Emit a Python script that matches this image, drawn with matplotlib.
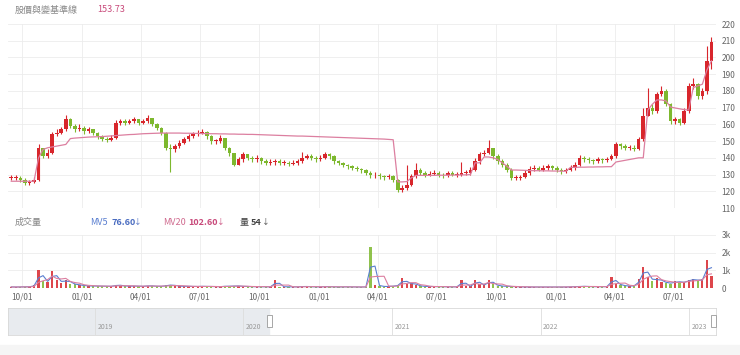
import matplotlib
matplotlib.use('Agg')
import matplotlib.pyplot as plt
import matplotlib.dates as mdates
from matplotlib.patches import Rectangle
import pandas as pd

plt.rcParams['font.family'] = ['Noto Sans CJK TC', 'DejaVu Sans']

# 週K資料 (從圖上估計)
start_date = '2020-09-14'
closes = [128, 128, 127, 125, 125.5, 127,
          146, 141, 143, 154, 155, 157, 163, 159, 157, 158,
          156, 157, 155, 153, 151, 150.5, 152, 161, 162, 161,
          162, 163, 161, 162, 164, 160, 158, 155, 146, 145,
          147, 149, 151, 153, 154, 155, 155.5, 153, 150, 150,
          152, 146, 143, 136, 139, 142, 140, 139, 140, 138,
          137, 137.5, 138, 137, 137, 136.5, 137, 138, 140, 141,
          140, 139, 140, 142, 141, 138, 137, 136, 135, 134,
          133.5, 132.5, 131, 129.5, 130, 129, 128.5, 129, 127, 120.5,
          122, 124, 129, 133, 131, 130, 130.5, 131, 130, 129.5,
          131, 130, 130, 131, 131, 133, 138, 142, 143, 146,
          141, 138, 136, 133, 128, 128, 128.5, 131, 133.5, 134,
          133, 134, 135, 134, 133, 132, 132.5, 134, 136, 140,
          139, 138.5, 138, 139, 138.5, 139, 141, 148, 147, 146,
          146, 145.5, 151, 165, 170, 168, 178, 180, 172, 162,
          163, 161, 168, 183, 184, 177, 180, 198, 209]
highs = [129.5, 129.5, 129, 128, 127, 128.5,
         148, 146, 145, 155.5, 157, 158.5, 165.5, 164, 160, 160,
         159, 158.5, 157.5, 155.5, 153.5, 152.5, 153.5, 162.5, 163.5, 163,
         163.5, 164.5, 163.5, 163.5, 165.5, 164, 161, 158.5, 155.5, 148,
         148.5, 150.5, 152.5, 154.5, 155.5, 156.5, 157, 156, 153.5, 151.5,
         153.5, 152, 146.5, 143, 140.5, 143.5, 142.5, 141, 141.5, 140.5,
         139, 139, 139.5, 139, 138.5, 138, 138.5, 139.5, 143.5, 142.5,
         142, 141, 141.5, 143.5, 143, 141.5, 138.5, 137.5, 136.5, 135.5,
         135, 134, 133.5, 132, 131.5, 131, 130, 130.5, 130, 127.5,
         123.5, 135.5, 130.5, 137, 134, 132, 132, 132.5, 132, 131,
         132, 132, 131.5, 137.5, 132.5, 134.5, 140, 143.5, 144.5, 150.5,
         146, 142, 139, 137, 134, 129.5, 130, 132.5, 135, 135.5,
         135, 135.5, 136.5, 136, 135, 134, 134, 135.5, 137.5, 141.5,
         141, 140.5, 139.5, 140.5, 140, 140.5, 142.5, 149.5, 149, 148,
         147.5, 147.5, 152.5, 170, 182, 172, 179.5, 183, 181, 173,
         164.5, 164, 169.5, 184.5, 188, 185, 182, 207, 212]
lows = [126.5, 126.5, 125.5, 124, 124, 125,
        126, 140, 140, 142, 153, 154, 156, 158, 155.5, 156,
        154.5, 155, 153.5, 151.5, 150, 149.5, 150, 151, 159.5, 159.5,
        160, 161, 159.5, 160, 161, 159, 156.5, 153.5, 144.5, 131.5,
        143.5, 146, 148, 150, 152, 153, 154, 151.5, 148.5, 148.5,
        149, 144.5, 141, 135, 135.5, 137.5, 138.5, 137.5, 137.5, 136.5,
        135.5, 135.5, 136, 135.5, 135.5, 135, 135.5, 136, 137, 139,
        138.5, 137.5, 138, 139, 139.5, 136.5, 135.5, 134.5, 133.5, 132.5,
        132, 131, 129.5, 128, 128, 127.5, 127, 127.5, 125.5, 119.5,
        119.5, 121, 123, 128, 129.5, 128.5, 129, 129.5, 128.5, 128,
        128.5, 129, 128.5, 129, 129.5, 130, 132, 136.5, 141, 142,
        139.5, 136.5, 134.5, 131.5, 127, 126.5, 127, 128, 130, 132,
        132, 132, 133, 132.5, 131.5, 130.5, 131, 132, 133, 135,
        137.5, 137, 136.5, 137, 137, 137.5, 138.5, 140, 145.5, 144.5,
        144.5, 144, 144.5, 150, 165, 166, 167, 177, 171, 160,
        160.5, 159.5, 160, 166.5, 181, 175, 175, 178, 193]
base_line = [126, 126, 126, 126, 126, 126,
             140, 145, 146, 146.5, 147, 147.5, 148, 151.5, 151.8, 152,
             152.2, 152.4, 152.5, 152.6, 152.7, 152.9, 153.1, 153.3, 153.5, 153.7,
             153.9, 154.0, 154.2, 154.4, 154.5, 154.6, 154.7, 154.8, 154.8, 154.8,
             154.8, 154.8, 154.7, 154.7, 154.6, 154.6, 154.5, 154.5, 154.4, 154.4,
             154.3, 154.3, 154.2, 154.2, 154.1, 154.1, 154.0, 154.0, 153.9, 153.8,
             153.7, 153.6, 153.5, 153.4, 153.3, 153.2, 153.1, 153.0, 153.0, 152.9,
             152.8, 152.7, 152.6, 152.5, 152.4, 152.3, 152.2, 152.1, 152.0, 151.9,
             151.8, 151.7, 151.6, 151.5, 151.4, 151.3, 151.2, 151.0, 150.8, 125.6,
             125.6, 125.8, 128, 129.5, 129.5, 129.5, 129.5, 129.5, 129.6, 129.6,
             129.6, 129.7, 129.7, 129.8, 129.8, 130, 137, 137, 140.5, 140.5,
             140, 139, 137, 135, 132.7, 132.7, 132.6, 132.5, 132.4, 132.3,
             132.3, 132.2, 132.2, 132.1, 132.1, 132, 132, 134.3, 134.3, 134.4,
             134.4, 134.5, 134.5, 134.6, 134.6, 134.7, 134.7, 137.5, 138, 138.5,
             139, 139.5, 140, 140, 168.6, 172, 174.6, 174.6, 174, 170.4,
             169.8, 169.3, 168.8, 168.6, 182, 183, 184, 192.5, 198]
volumes = [60, 50, 70, 60, 80, 150,
           1000, 400, 350, 950, 450, 300, 480, 250, 200, 160,
           130, 110, 120, 100, 110, 90, 100, 180, 130, 110,
           100, 120, 90, 100, 130, 110, 90, 100, 150, 180,
           120, 100, 90, 100, 80, 90, 100, 80, 90, 70,
           80, 110, 90, 130, 100, 90, 80, 70, 80, 70,
           70, 60, 450, 80, 60, 70, 60, 70, 90, 80,
           70, 60, 70, 80, 70, 60, 60, 70, 60, 60,
           50, 60, 60, 2300, 180, 100, 80, 90, 120, 160,
           550, 200, 300, 150, 100, 80, 90, 70, 80, 70,
           60, 70, 60, 450, 90, 100, 450, 200, 150, 450,
           200, 120, 100, 90, 80, 70, 60, 60, 50, 60,
           50, 60, 50, 50, 60, 50, 60, 70, 80, 100,
           90, 80, 70, 80, 70, 80, 600, 250, 150, 120,
           100, 150, 500, 1200, 600, 400, 550, 350, 300, 250,
           400, 300, 350, 450, 500, 400, 500, 1600, 700]

dates = pd.date_range(start_date, periods=len(closes), freq='7D')
opens = [128] + closes[:-1]

UP = '#d8262c'
DOWN = '#7db82e'
PINK = '#dc7fa0'
GRID = '#ececec'

fig = plt.figure(figsize=(7.4, 3.55), dpi=100)
W, H = 740, 355

def box(x0, y0, x1, y1):
    return [x0 / W, 1 - y1 / H, (x1 - x0) / W, (y1 - y0) / H]

ax = fig.add_axes(box(8, 24, 716, 208))
axv = fig.add_axes(box(8, 235, 716, 288), sharex=ax)
axn = fig.add_axes(box(8, 308, 716, 335))

colors = [UP if c >= o else DOWN for o, c in zip(opens, closes)]
bottoms = [min(o, c) for o, c in zip(opens, closes)]
heights = [max(abs(c - o), 0.4) for o, c in zip(opens, closes)]

ax.vlines(dates, lows, highs, colors=colors, lw=0.8, zorder=2)
ax.bar(dates, heights, bottom=bottoms, width=5.5, color=colors, zorder=3)
ax.plot(dates, base_line, color=PINK, lw=0.9, zorder=4)

ax.set_ylim(110, 220)
ax.set_yticks(range(110, 221, 10))
ax.set_xlim(pd.Timestamp('2020-09-09'), pd.Timestamp('2023-09-04'))

for a in (ax, axv):
    a.yaxis.tick_right()
    a.grid(True, color=GRID, lw=0.6)
    a.set_axisbelow(True)
    for s in a.spines.values():
        s.set_visible(False)
    a.tick_params(length=0, labelsize=6, colors='#666', pad=4)
    a.xaxis.set_major_locator(mdates.MonthLocator(bymonth=[1, 4, 7, 10]))
    a.xaxis.set_major_formatter(mdates.DateFormatter('%m/%d'))
ax.tick_params(labelbottom=False)

# 成交量
vol = pd.Series(volumes, index=dates)
axv.bar(dates, volumes, width=3.5, color=colors, alpha=0.85, zorder=2)
axv.plot(dates, vol.rolling(2, min_periods=1).mean(), color='#5a7fd0', lw=0.8, zorder=3)
axv.plot(dates, vol.rolling(4, min_periods=1).mean(), color=PINK, lw=0.8, zorder=3)
axv.set_ylim(0, 3000)
axv.set_yticks([0, 1000, 2000, 3000])
axv.set_yticklabels(['0', '1k', '2k', '3k'])
axv.tick_params(axis='x', pad=3)

# 標題文字
fig.text(15 / W, 1 - 10 / H, '股價與變基準線', fontsize=6.5, color='#888', va='center')
fig.text(97 / W, 1 - 10 / H, '153.73', fontsize=6.5, color='#c8497a', va='center')
fig.text(15 / W, 1 - 222 / H, '成交量', fontsize=6.5, color='#888', va='center')
fig.text(90 / W, 1 - 222 / H, 'MV5', fontsize=6.5, color='#5a7fd0', va='center')
fig.text(111 / W, 1 - 222 / H, '76.60', fontsize=6.5, color='#4a6cc0', va='center', weight='bold')
fig.text(134 / W, 1 - 222 / H, '↓', fontsize=5.5, color='#4a6cc0', va='center')
fig.text(163 / W, 1 - 222 / H, 'MV20', fontsize=6.5, color='#d06b8f', va='center')
fig.text(188 / W, 1 - 222 / H, '102.60', fontsize=6.5, color='#c8497a', va='center', weight='bold')
fig.text(217 / W, 1 - 222 / H, '↓', fontsize=5.5, color='#c8497a', va='center')
fig.text(240 / W, 1 - 222 / H, '量', fontsize=6.5, color='#444', va='center')
fig.text(251 / W, 1 - 222 / H, '54', fontsize=6.5, color='#444', va='center', weight='bold')
fig.text(262 / W, 1 - 222 / H, '↓', fontsize=5.5, color='#444', va='center')

# 導覽列
nav_start, nav_end = pd.Timestamp('2018-06-01'), pd.Timestamp('2023-03-08')
sel_start = pd.Timestamp('2020-03-05')
axn.set_xlim(nav_start, nav_end)
axn.set_ylim(0, 1)
axn.set_xticks([])
axn.set_yticks([])
for s in axn.spines.values():
    s.set_color('#d8d8d8')
    s.set_linewidth(0.6)
axn.axvspan(nav_start, sel_start, color='#e8ebef', zorder=1)
for yr in [2019, 2020, 2021, 2022, 2023]:
    d = pd.Timestamp(f'{yr}-01-01')
    axn.axvline(d, color='#dddddd', lw=0.6, zorder=2)
    axn.text(d + pd.Timedelta(days=6), 0.3, str(yr), fontsize=5, color='#999', va='center')
for d in [sel_start, nav_end - pd.Timedelta(days=6)]:
    axn.add_patch(Rectangle((mdates.date2num(d) - 7, 0.28), 14, 0.45,
                            fc='white', ec='#999', lw=0.6, zorder=4, clip_on=False))

fig.patches.append(Rectangle((0, 0), 1, 10 / H, transform=fig.transFigure, color='#f5f5f5', zorder=0))

fig.savefig('out.png', dpi=100)
